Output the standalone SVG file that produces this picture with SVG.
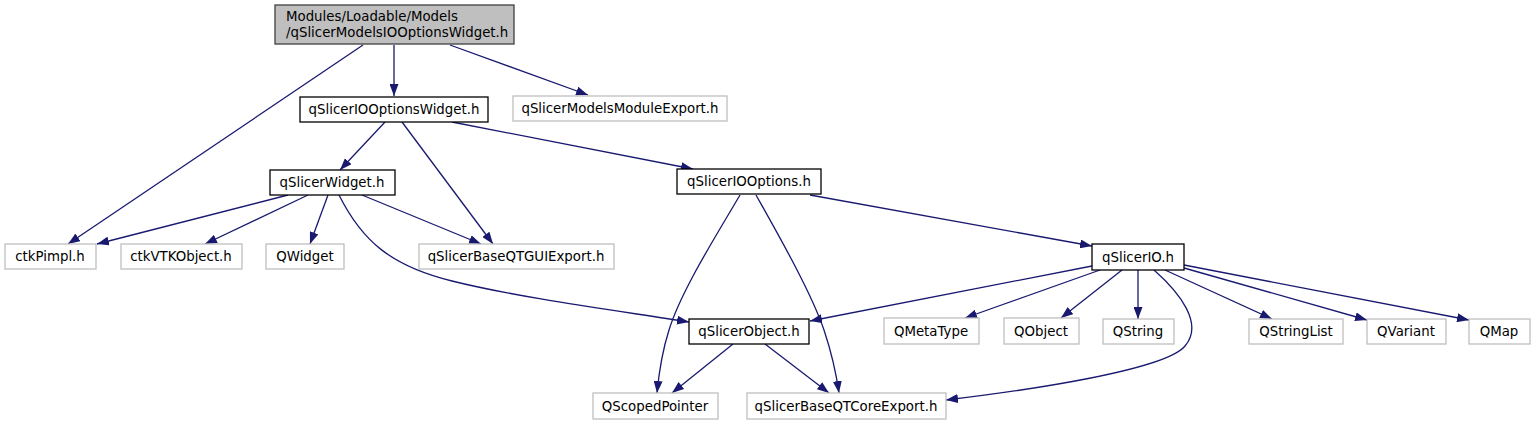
<svg xmlns="http://www.w3.org/2000/svg" width="1535" height="425" viewBox="0 0 1535 425">
<style>
text{font-family:"DejaVu Sans",sans-serif;font-size:13.33px;fill:#000;text-anchor:middle}
.n rect{fill:#fff;stroke:#000;stroke-width:1.3}
.g rect{fill:#fff;stroke:#bfbfbf;stroke-width:1.3}
.r rect{fill:#bfbfbf;stroke:#404040;stroke-width:1.3}
.e path{fill:none;stroke:#191970;stroke-width:1.3}
</style>
<defs>
<marker id="a" viewBox="0 0 12 9" refX="12" refY="4.5" markerWidth="12" markerHeight="9" markerUnits="userSpaceOnUse" orient="auto">
<path d="M0,0 L12,4.5 L0,9 z" fill="#191970"/>
</marker>
</defs>
<rect width="1535" height="425" fill="#fff"/>
<g id="edges" class="e">
<path d="M363,45 L68,244" marker-end="url(#a)"/>
<path d="M394,45 L394,96" marker-end="url(#a)"/>
<path d="M450,45 L588,95" marker-end="url(#a)"/>
<path d="M385,122 L340,170" marker-end="url(#a)"/>
<path d="M402,122 L493,244" marker-end="url(#a)"/>
<path d="M452,122 L693,169" marker-end="url(#a)"/>
<path d="M288,195 L97,244" marker-end="url(#a)"/>
<path d="M308,195 L205,244" marker-end="url(#a)"/>
<path d="M328,195 L310,244" marker-end="url(#a)"/>
<path d="M362,195 L481,244" marker-end="url(#a)"/>
<path d="M339,195 C362,241 391,266 452,281 C520,298 620,311 689,322" marker-end="url(#a)"/>
<path d="M740,195 C716,236 681,291 669,330 C662,352 659,372 657,393" marker-end="url(#a)"/>
<path d="M756,195 C779,236 811,292 824,330 C831,351 836,372 839,393" marker-end="url(#a)"/>
<path d="M810,195 L1092,246" marker-end="url(#a)"/>
<path d="M1092,266 L810,321" marker-end="url(#a)"/>
<path d="M1100,270 L965,318" marker-end="url(#a)"/>
<path d="M1122,270 L1061,318" marker-end="url(#a)"/>
<path d="M1138,270 L1138,319" marker-end="url(#a)"/>
<path d="M1154,270 C1180,293 1204,324 1185,346 C1165,370 1030,390 946,400" marker-end="url(#a)"/>
<path d="M1165,270 L1272,319" marker-end="url(#a)"/>
<path d="M1184,268 L1367,320" marker-end="url(#a)"/>
<path d="M1184,265 L1469,320" marker-end="url(#a)"/>
<path d="M733,344 L672,393" marker-end="url(#a)"/>
<path d="M765,344 L829,393" marker-end="url(#a)"/>
</g>
<g id="root" class="r"><rect x="275" y="5" width="239" height="39"/><text x="286" y="21" style="text-anchor:start">Modules/Loadable/Models</text><text x="286" y="37" style="text-anchor:start">/qSlicerModelsIOOptionsWidget.h</text></g>
<g id="n1" class="n"><rect x="300" y="97" width="188" height="25"/><text x="394" y="114">qSlicerIOOptionsWidget.h</text></g>
<g id="n2" class="g"><rect x="513" y="96" width="214" height="25"/><text x="620" y="113">qSlicerModelsModuleExport.h</text></g>
<g id="n3" class="n"><rect x="270" y="170" width="125" height="25"/><text x="332" y="187">qSlicerWidget.h</text></g>
<g id="n4" class="n"><rect x="677" y="169" width="144" height="25"/><text x="749" y="186">qSlicerIOOptions.h</text></g>
<g id="n5" class="g"><rect x="5" y="244" width="91" height="25"/><text x="50" y="261">ctkPimpl.h</text></g>
<g id="n6" class="g"><rect x="121" y="244" width="121" height="25"/><text x="181" y="261">ctkVTKObject.h</text></g>
<g id="n7" class="g"><rect x="266" y="244" width="78" height="25"/><text x="305" y="261">QWidget</text></g>
<g id="n8" class="g"><rect x="419" y="244" width="195" height="25"/><text x="516" y="261">qSlicerBaseQTGUIExport.h</text></g>
<g id="n9" class="n"><rect x="1092" y="244" width="92" height="26"/><text x="1138" y="262">qSlicerIO.h</text></g>
<g id="n10" class="n"><rect x="689" y="319" width="120" height="25"/><text x="749" y="336">qSlicerObject.h</text></g>
<g id="n11" class="g"><rect x="884" y="318" width="95" height="26"/><text x="931" y="336">QMetaType</text></g>
<g id="n12" class="g"><rect x="1004" y="318" width="75" height="26"/><text x="1041" y="336">QObject</text></g>
<g id="n13" class="g"><rect x="1103" y="319" width="71" height="25"/><text x="1138" y="336">QString</text></g>
<g id="n14" class="g"><rect x="1249" y="319" width="94" height="25"/><text x="1296" y="336">QStringList</text></g>
<g id="n15" class="g"><rect x="1367" y="319" width="79" height="25"/><text x="1406" y="336">QVariant</text></g>
<g id="n16" class="g"><rect x="1469" y="319" width="61" height="25"/><text x="1499" y="336">QMap</text></g>
<g id="n17" class="g"><rect x="593" y="393" width="125" height="26"/><text x="655" y="411">QScopedPointer</text></g>
<g id="n18" class="g"><rect x="747" y="393" width="199" height="26"/><text x="846" y="411">qSlicerBaseQTCoreExport.h</text></g>
</svg>
